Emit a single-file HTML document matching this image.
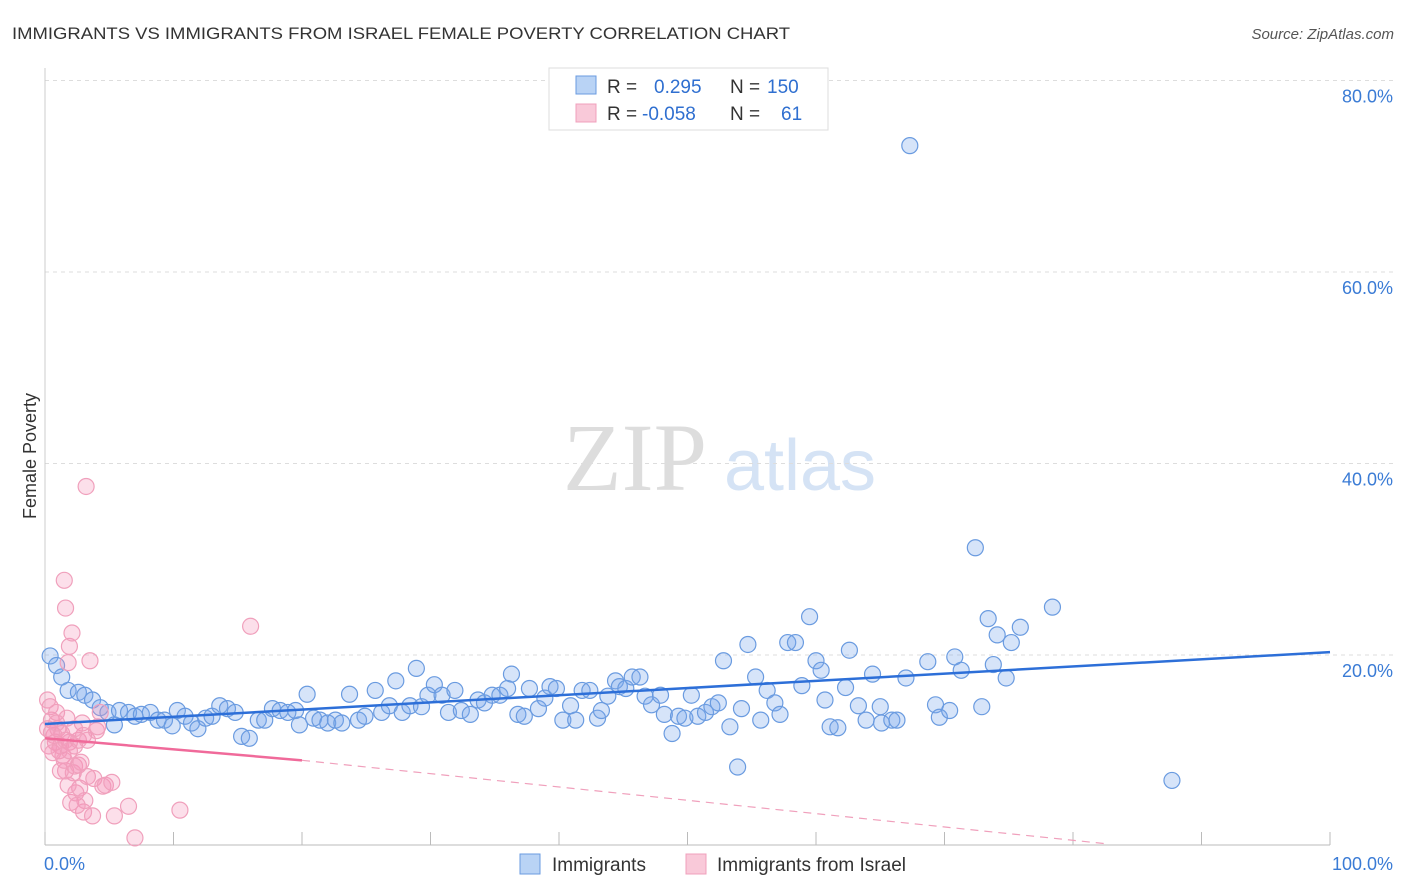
<!DOCTYPE html>
<html><head><meta charset="utf-8"><style>
body{margin:0;background:#fff;font-family:"Liberation Sans",sans-serif}
svg{display:block}
</style></head><body>
<svg id="c" width="1406" height="892">
<text x="12" y="39" font-size="17" fill="#333" textLength="778" lengthAdjust="spacingAndGlyphs">IMMIGRANTS VS IMMIGRANTS FROM ISRAEL FEMALE POVERTY CORRELATION CHART</text>
<text x="1394" y="39" font-size="15" fill="#555" text-anchor="end" font-style="italic">Source: ZipAtlas.com</text>
<text x="36" y="456" font-size="18" fill="#333" text-anchor="middle" transform="rotate(-90 36 456)">Female Poverty</text>
<g><text x="635" y="490" font-size="96" fill="#ddd" text-anchor="middle" font-family="Liberation Serif">ZIP</text><text x="800" y="490" font-size="72" fill="#d5e3f5" text-anchor="middle">atlas</text></g>
<g id="grid"></g><g id="marks"></g>
<g>
<rect x="549" y="68" width="279" height="62" fill="#fff" stroke="#ddd"/>
<rect x="576" y="76" width="20" height="18" fill="#b9d3f5" stroke="#6a9be0"/>
<text x="607" y="93" font-size="19" fill="#333">R =</text><text x="654" y="93" font-size="19" fill="#2f6fd0">0.295</text>
<text x="730" y="93" font-size="19" fill="#333">N =</text><text x="767" y="93" font-size="19" fill="#2f6fd0">150</text>
<rect x="576" y="104" width="20" height="18" fill="#f9c9d9" stroke="#f0a0bc"/>
<text x="607" y="120" font-size="19" fill="#333">R =</text><text x="642" y="120" font-size="19" fill="#2f6fd0">-0.058</text>
<text x="730" y="120" font-size="19" fill="#333">N =</text><text x="781" y="120" font-size="19" fill="#2f6fd0">61</text>
</g>
<g>
<rect x="520" y="854" width="20" height="20" fill="#b9d3f5" stroke="#6a9be0"/>
<text x="552" y="871" font-size="19" fill="#333">Immigrants</text>
<rect x="686" y="854" width="20" height="20" fill="#f9c9d9" stroke="#f0a0bc"/>
<text x="717" y="871" font-size="19" fill="#333">Immigrants from Israel</text>
</g>
</svg>
<script>
const blueX=[0.4,0.9,1.3,1.8,2.6,3.1,3.7,4.3,4.9,5.4,5.8,6.5,7.0,7.5,8.2,8.8,9.3,9.9,10.3,10.9,11.4,11.9,12.5,13.0,13.6,14.2,14.8,15.3,15.9,16.6,17.1,17.7,18.3,18.9,19.5,19.8,20.4,20.9,21.4,22.0,22.6,23.1,23.7,24.4,24.9,25.7,26.2,26.8,27.3,27.8,28.4,28.9,29.3,29.8,30.3,30.9,31.4,31.9,32.4,33.1,33.7,34.2,34.8,35.4,36.0,36.3,36.8,37.3,37.7,38.4,38.9,39.3,39.8,40.3,40.9,41.3,41.8,42.4,43.0,43.3,43.8,44.4,44.7,45.2,45.7,46.3,46.7,47.2,47.9,48.2,48.8,49.3,49.8,50.3,50.8,51.4,51.9,52.4,52.8,53.3,53.9,54.2,54.7,55.3,55.7,56.2,56.8,57.2,57.8,58.4,58.9,59.5,60.0,60.4,60.7,61.1,61.7,62.3,62.6,63.3,63.9,64.4,65.0,65.1,65.9,66.3,67.0,67.3,68.7,69.3,69.6,70.4,70.8,71.3,72.4,72.9,73.4,73.8,74.1,74.8,75.2,75.9,78.4,87.7];
const blueY=[19.9,18.9,17.7,16.3,16.1,15.8,15.3,14.5,14.0,12.7,14.2,14.0,13.6,13.8,14.0,13.2,13.2,12.6,14.2,13.6,12.9,12.3,13.4,13.6,14.7,14.4,14.0,11.5,11.3,13.2,13.2,14.4,14.2,14.0,14.2,12.7,15.9,13.4,13.2,12.9,13.2,12.9,15.9,13.2,13.6,16.3,14.0,14.7,17.3,14.0,14.7,18.6,14.6,15.8,16.9,15.8,14.0,16.3,14.2,13.8,15.3,15.0,15.8,15.8,16.5,18.0,13.8,13.6,16.5,14.4,15.5,16.7,16.5,13.2,14.7,13.2,16.3,16.3,13.4,14.2,15.7,17.3,16.7,16.5,17.7,17.7,15.7,14.8,15.8,13.8,11.8,13.6,13.4,15.8,13.6,14.0,14.6,15.0,19.4,12.5,8.3,14.4,21.1,17.7,13.2,16.3,15.0,13.8,21.3,21.3,16.8,24.0,19.4,18.4,15.3,12.5,12.4,16.6,20.5,14.7,13.2,18.0,14.6,12.9,13.2,13.2,17.6,73.2,19.3,14.8,13.5,14.2,19.8,18.4,31.2,14.6,23.8,19.0,22.1,17.6,21.3,22.9,25.0,6.9];
const pinkX=[0.2,0.4,0.5,0.7,0.8,0.9,1.0,1.2,1.3,1.4,1.5,1.6,1.6,1.7,1.8,1.9,1.9,2.0,2.1,2.2,2.3,2.3,2.4,2.6,2.6,2.7,2.9,3.0,3.0,3.1,3.2,3.3,3.3,3.5,3.7,3.8,4.0,4.1,4.3,4.5,4.7,5.2,5.4,6.5,7.0,10.5,16.0,0.2,0.3,0.5,0.6,0.9,1.1,1.2,1.5,1.6,1.8,1.9,2.3,2.5,2.8];
const pinkY=[15.3,14.6,13.2,11.6,10.9,14.0,12.3,10.5,11.8,9.5,27.8,24.9,7.9,13.4,19.2,10.9,20.9,4.6,22.3,7.7,10.5,8.4,5.6,11.1,8.5,6.1,12.9,11.6,3.6,4.8,37.6,7.3,11.1,19.4,3.2,7.1,12.1,12.5,14.0,6.3,6.4,6.7,3.2,4.2,0.9,3.8,23.0,12.3,10.5,11.9,9.8,12.9,10.0,7.9,9.0,11.1,6.4,10.0,12.3,4.3,8.8];
const yTicks=[20,40,60,80];
const yTickLabels=["20.0%","40.0%","60.0%","80.0%"];
const xTicks=[0,10,20,30,40,50,60,70,80,90,100];
const blueTrend=[12.8,20.3];
const pinkTrend=[11.3,9.0];
const pinkSolidEnd=20;
const pinkDashEnd=[82.5,0.3];
const NS="http://www.w3.org/2000/svg";
const X=v=>45+v*12.85, Y=v=>846.5-v*9.575;
function mk(tag,attrs,parent){const e=document.createElementNS(NS,tag);for(const k in attrs)e.setAttribute(k,attrs[k]);parent.appendChild(e);return e;}
const g=document.getElementById('grid'), m=document.getElementById('marks');
yTicks.forEach((t,i)=>{
 const l=mk('line',{x1:45,x2:1394,y1:Y(t),y2:Y(t),stroke:'#ddd','stroke-dasharray':'4,4'},g);
 
 
 const tx=mk('text',{x:1393,y:Y(t)+22,'font-size':18,fill:'#3a7bd5','text-anchor':'end'},g);
 tx.textContent=yTickLabels[i];
 
 
});
const ax=mk('line',{x1:45,x2:1330,y1:845,y2:845,stroke:'#bbb'},g);


const ay=mk('line',{x1:45,x2:45,y1:68,y2:845,stroke:'#ccc'},g);


xTicks.forEach(t=>{const l=mk('line',{x1:X(t),x2:X(t),y1:832,y2:845,stroke:'#bbb'},g);
 
 });
const x0=mk('text',{x:44,y:870,'font-size':18,fill:'#3a7bd5'},g);x0.textContent='0.0%';


const x1=mk('text',{x:1393,y:870,'font-size':18,fill:'#3a7bd5','text-anchor':'end'},g);x1.textContent='100.0%';


blueX.forEach((v,i)=>{const c=mk('circle',{cx:X(v),cy:Y(blueY[i]),r:8,fill:'rgba(120,165,235,0.3)',stroke:'#6a9be0','stroke-width':1.2},m);
 
 });
pinkX.forEach((v,i)=>{const c=mk('circle',{cx:X(v),cy:Y(pinkY[i]),r:8,fill:'rgba(245,150,185,0.3)',stroke:'#f0a0bc','stroke-width':1.2},m);
 
 });
const bt=mk('line',{x1:X(0),y1:Y(blueTrend[0]),x2:X(100),y2:Y(blueTrend[1]),stroke:'#2d6fd8','stroke-width':2.5},m);


const pt=mk('line',{x1:X(0),y1:Y(pinkTrend[0]),x2:X(pinkSolidEnd),y2:Y(pinkTrend[1]),stroke:'#f06a9a','stroke-width':2.5},m);


const pd=mk('line',{x1:X(pinkSolidEnd),y1:Y(pinkTrend[1]),x2:X(pinkDashEnd[0]),y2:Y(pinkDashEnd[1]),stroke:'#f0a0bc','stroke-width':1.2,'stroke-dasharray':'8,6'},m);


</script>
</body></html>
